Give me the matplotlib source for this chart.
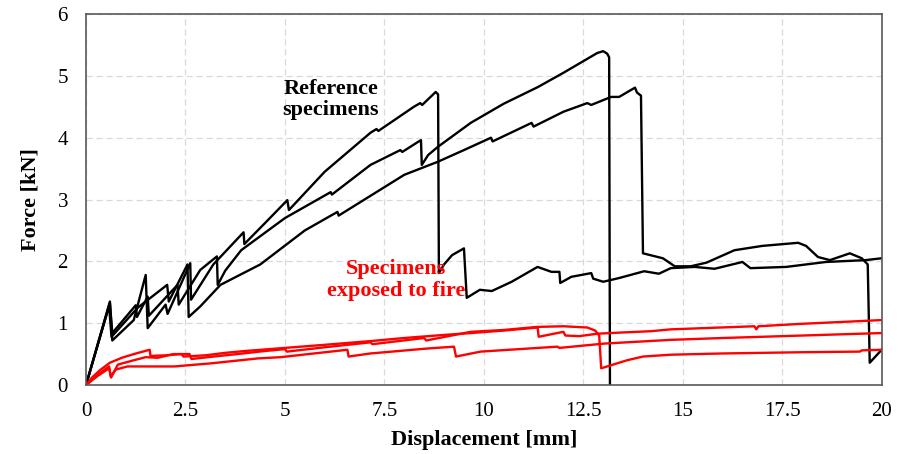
import numpy as np
import matplotlib.pyplot as plt

# Reference specimens (displacement mm, force kN)
ref_a_x = [0, 0.6, 0.66, 1.2, 1.5, 1.55, 2.0, 2.05, 2.62, 2.64, 3.2, 3.96, 3.98, 4.5, 5.06, 5.1,
           6.0, 7.15, 7.3, 7.35, 8.24, 8.4, 8.45, 8.79, 8.85, 8.87, 9.0, 9.2, 9.5, 9.57, 9.9, 10.2,
           10.7, 11.35, 11.7, 11.9, 11.92, 12.2, 12.7, 12.75, 13.0, 13.4, 14.03, 14.4, 14.7, 15.3,
           15.8, 16.5, 16.7, 17.6, 18.6, 19.6, 20.0]
ref_a_y = [0, 1.35, 0.72, 1.05, 1.78, 0.92, 1.30, 1.15, 1.97, 1.38, 1.95, 2.47, 2.28, 2.62, 2.99, 2.83,
           3.45, 4.08, 4.14, 4.11, 4.50, 4.56, 4.53, 4.74, 4.70, 1.81, 1.95, 2.10, 2.21, 1.41, 1.54, 1.52,
           1.67, 1.91, 1.83, 1.83, 1.65, 1.75, 1.81, 1.72, 1.67, 1.73, 1.84, 1.80, 1.89, 1.91,
           1.88, 1.99, 1.89, 1.91, 1.99, 2.02, 2.05]

ref_b_x = [0, 0.6, 0.66, 1.25, 1.28, 1.55, 1.58, 2.3, 2.33, 2.87, 3.29, 3.31, 3.5, 3.9, 5.0, 6.15,
           6.18, 7.15, 7.9, 7.95, 8.34, 8.42, 8.44, 8.6, 8.84, 9.67, 10.5, 11.36, 12.0, 12.85, 13.0,
           13.1, 13.15, 13.17]
ref_b_y = [0, 1.33, 0.84, 1.29, 1.10, 1.43, 1.12, 1.62, 1.30, 1.86, 2.08, 1.62, 1.85, 2.18, 2.70, 3.12,
           3.08, 3.56, 3.80, 3.77, 3.93, 3.96, 3.56, 3.72, 3.85, 4.24, 4.55, 4.82, 5.05, 5.37, 5.40,
           5.36, 5.30, 0.0]

ref_c_x = [0, 0.58, 0.64, 1.3, 2.04, 2.08, 2.55, 2.58, 2.87, 3.38, 4.38, 5.5, 6.32, 6.35, 7.4, 8.0,
           8.84, 9.5, 10.18, 10.22, 11.2, 11.25, 12.0, 12.6, 12.7, 13.2, 13.4, 13.8, 13.85, 13.95,
           14.0, 14.5, 14.8, 15.2, 15.6, 16.3, 17.0, 17.9, 18.1, 18.4, 18.7, 19.2, 19.5, 19.65,
           19.7, 20.0]
ref_c_y = [0, 1.28, 0.78, 1.25, 1.62, 1.35, 1.95, 1.10, 1.27, 1.62, 1.95, 2.50, 2.80, 2.74, 3.16, 3.40,
           3.61, 3.80, 4.00, 3.94, 4.24, 4.18, 4.42, 4.56, 4.53, 4.66, 4.66, 4.81, 4.73, 4.68,
           2.13, 2.05, 1.92, 1.92, 1.98, 2.18, 2.25, 2.30, 2.25, 2.07, 2.02, 2.13, 2.05, 1.95,
           0.36, 0.57]

# Specimens exposed to fire
fire_a_x = [0, 0.15, 0.35, 0.6, 0.9, 1.2, 1.6, 1.62, 2.0, 2.4, 2.45, 3.0, 3.5, 4.0, 5.0, 6.0, 7.15,
            8.0, 9.0, 9.67, 10.5, 11.35, 11.38, 12.0, 12.05, 12.4, 12.86, 13.5, 14.2, 14.7, 16.8,
            16.85, 16.9, 18.0, 20.0]
fire_a_y = [0, 0.12, 0.24, 0.36, 0.44, 0.50, 0.57, 0.47, 0.48, 0.50, 0.46, 0.48, 0.52, 0.55, 0.60, 0.65, 0.71,
            0.76, 0.81, 0.84, 0.88, 0.93, 0.78, 0.86, 0.80, 0.79, 0.83, 0.85, 0.87, 0.90, 0.95,
            0.90, 0.95, 0.99, 1.05]

fire_b_x = [0, 0.3, 0.58, 0.63, 0.8, 1.2, 1.5, 1.8, 2.2, 2.6, 2.65, 3.2, 3.8, 4.5, 5.0, 5.05, 6.0,
            7.15, 7.2, 8.5, 8.55, 9.67, 10.5, 11.35, 12.0, 12.6, 12.8, 12.9, 12.95, 13.6, 14.0,
            14.7, 16.0, 18.0, 19.45, 19.5, 20.0]
fire_b_y = [0, 0.15, 0.27, 0.12, 0.33, 0.40, 0.45, 0.44, 0.50, 0.50, 0.42, 0.46, 0.50, 0.55, 0.58, 0.54, 0.61,
            0.69, 0.66, 0.76, 0.72, 0.86, 0.89, 0.94, 0.95, 0.93, 0.88, 0.80, 0.27, 0.40, 0.46,
            0.49, 0.51, 0.53, 0.54, 0.56, 0.57]

fire_c_x = [0, 0.2, 0.45, 0.58, 0.62, 0.75, 1.04, 2.22, 3.14, 4.32, 4.89, 6.57, 6.6, 7.15, 8.58, 9.25,
            9.3, 9.92, 11.85, 11.9, 13.03, 14.7, 16.0, 18.0, 20.0]
fire_c_y = [0, 0.12, 0.24, 0.30, 0.14, 0.25, 0.30, 0.30, 0.35, 0.43, 0.45, 0.57, 0.46, 0.51, 0.59, 0.62,
            0.46, 0.54, 0.62, 0.60, 0.67, 0.73, 0.76, 0.80, 0.84]

plt.rcParams['font.family'] = ['Liberation Serif', 'DejaVu Serif']

fig = plt.figure(figsize=(8.98, 4.54), dpi=100)
ax = fig.add_axes([0.0958, 0.152, 0.886, 0.817])

for xs, ys in [(ref_a_x, ref_a_y), (ref_b_x, ref_b_y), (ref_c_x, ref_c_y)]:
    ax.plot(xs, ys, color='black', lw=1.7)
for xs, ys in [(fire_a_x, fire_a_y), (fire_b_x, fire_b_y), (fire_c_x, fire_c_y)]:
    ax.plot(xs, ys, color='#ff0000', lw=1.7)

ax.set_xlim(0, 20)
ax.set_ylim(0, 6)
ax.set_xticks(np.arange(0, 20.1, 2.5))
ax.set_xticklabels(['0', '2.5', '5', '7.5', '10', '12.5', '15', '17.5', '20'])
ax.set_yticks(range(0, 7))
ax.tick_params(length=0, labelsize=15)
ax.tick_params(axis='x', pad=12)
ax.tick_params(axis='y', pad=13)
ax.grid(True, color='#d9d9d9', linestyle=(0, (5, 3)), lw=0.9)
ax.set_axisbelow(True)
for s in ax.spines.values():
    s.set_color('#595959')
    s.set_linewidth(1.2)

ax.set_xlabel('Displacement [mm]', fontsize=16, fontweight='bold', labelpad=7)
ax.set_ylabel('Force [kN]', fontsize=16, fontweight='bold', labelpad=12)

ax.text(6.15, 4.62, 'Reference\nspecimens', ha='center', va='center', fontsize=16,
        fontweight='bold', color='black', linespacing=1.1)
ax.text(7.8, 1.70, 'Specimens\nexposed to fire', ha='center', va='center', fontsize=16,
        fontweight='bold', color='#ff0000', linespacing=1.1)

fig.savefig('out.png', dpi=100)
